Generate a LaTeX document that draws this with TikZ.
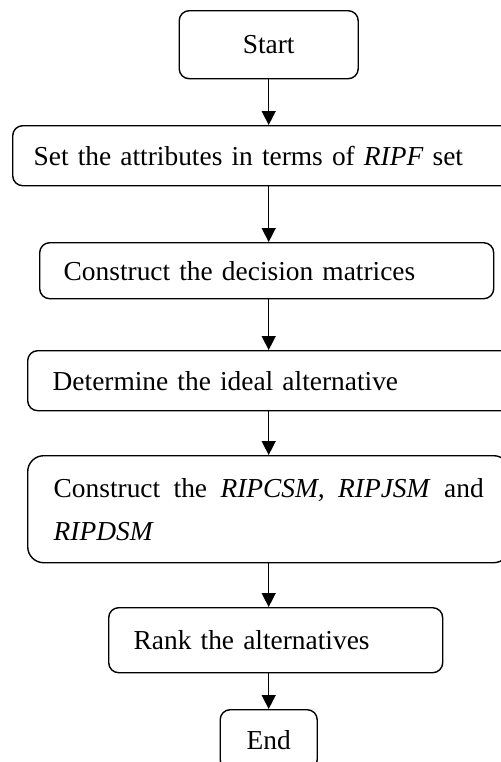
\documentclass[tikz,border=0pt]{standalone}
\usepackage{fontspec}
\setmainfont{Liberation Serif}
\usetikzlibrary{arrows.meta}

\begin{document}
\begin{tikzpicture}[
        x=0.5pt, y=-0.5pt,
        every node/.style={rectangle, draw, line width=0.7pt, rounded corners=5pt,
            anchor=north west, align=left, inner ysep=0pt,
            font=\fontsize{13.7}{21.5}\selectfont},
        term/.style={align=center, inner xsep=0pt},
        flow/.style={line width=0.7pt, -{Triangle[length=7pt, width=7pt]}}]
        \useasboundingbox (0,0) rectangle (500,762);
        \node[term, minimum width=89.5pt, minimum height=34pt] (start) at (178.5,10) {Start};
        \node[inner xsep=10.5pt, text width=235pt, minimum height=30pt] (attr) at (12,125)
            {Set the attributes in terms of \textit{RIPF} set};
        \node[inner xsep=12pt, text width=203pt, minimum height=28pt] (matr) at (39,242)
            {Construct the decision matrices};
        \node[inner xsep=12.5pt, text width=217pt, minimum height=30pt] (ideal) at (27,350)
            {Determine the ideal alternative};
        \node[rounded corners=8pt, inner xsep=13pt, align=justify, text width=215pt, minimum height=53.5pt] (sim) at (27,455)
            {Construct the \textit{RIPCSM, RIPJSM} and \textit{RIPDSM}};
        \node[inner xsep=12.5pt, text width=142pt, minimum height=32.5pt] (rank) at (108,607)
            {Rank the alternatives};
        \node[term, minimum width=48.5pt, minimum height=30pt] (end) at (219.5,709) {End};
        \draw[flow] (start.south) -- (start.south |- attr.north);
        \draw[flow] (start.south |- attr.south) -- (start.south |- matr.north);
        \draw[flow] (start.south |- matr.south) -- (start.south |- ideal.north);
        \draw[flow] (start.south |- ideal.south) -- (start.south |- sim.north);
        \draw[flow] (start.south |- sim.south) -- (start.south |- rank.north);
        \draw[flow] (start.south |- rank.south) -- (end.north);
    \end{tikzpicture}
\end{document}
